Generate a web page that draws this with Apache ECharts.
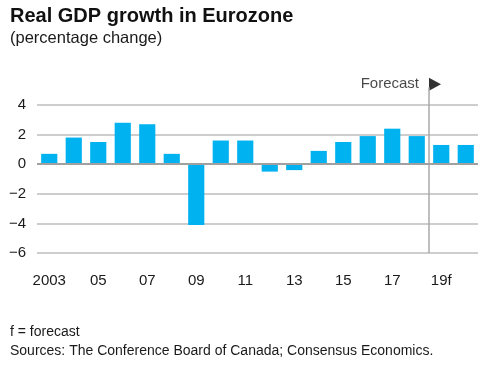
<!DOCTYPE html>
<html>
<head>
<meta charset="utf-8">
<script src="https://cdn.jsdelivr.net/npm/echarts@6/dist/echarts.min.js"></script>
<style>
html,body{margin:0;padding:0;background:#fff;}
#chart{width:489px;height:366px;}
</style>
</head>
<body>
<div id="chart"></div>
<script>
var years = ['2003','2004','2005','2006','2007','2008','2009','2010','2011','2012','2013','2014','2015','2016','2017','2018','2019','2020'];
var tickLabels = ['2003','04','05','06','07','08','09','10','11','12','13','14','15','16','17','18','19f','20f'];
var growth = [0.7, 1.8, 1.5, 2.8, 2.7, 0.7, -4.1, 1.6, 1.6, -0.5, -0.4, 0.9, 1.5, 1.9, 2.4, 1.9, 1.3, 1.3];
var forecastStart = 16;
var forecastLineSpan = [-6, 5.2];
var forecastMarkerY = 5.4;
var yTicks = [-6, -4, -2, 0, 2, 4];

var FONT = '"Liberation Sans", Arial, Helvetica, sans-serif';
var TXT = '#1a1a1a';
var chart = echarts.init(document.getElementById('chart'), null, {renderer: 'canvas'});
chart.setOption({
  animation: false,
  backgroundColor: '#ffffff',
  textStyle: {fontFamily: FONT},
  title: [
    {text: 'Real GDP growth in Eurozone', left: 10, top: 6, padding: 0,
     textStyle: {fontFamily: FONT, fontSize: 20, fontWeight: 'bold', color: '#111'}},
    {text: '(percentage change)', left: 10, top: 30, padding: 0,
     textStyle: {fontFamily: FONT, fontSize: 16.5, fontWeight: 'normal', color: TXT}},
    {text: 'f = forecast', left: 10, top: 325, padding: 0,
     textStyle: {fontFamily: FONT, fontSize: 14, fontWeight: 'normal', color: TXT}},
    {text: 'Sources: The Conference Board of Canada; Consensus Economics.', left: 10, top: 344, padding: 0,
     textStyle: {fontFamily: FONT, fontSize: 14, fontWeight: 'normal', color: TXT}}
  ],
  grid: {left: 37, right: 11, top: 105, bottom: 113, containLabel: false},
  xAxis: [
    {type: 'category', data: years, gridIndex: 0,
     axisLine: {show: false, onZero: false}, axisTick: {show: false},
     axisLabel: {interval: 1, margin: 20, fontSize: 15, color: TXT, fontFamily: FONT,
       formatter: function (v, i) { return tickLabels[i]; }},
     splitLine: {show: false}},
    {type: 'value', min: 0, max: years.length, gridIndex: 0, show: false}
  ],
  yAxis: {
    type: 'value', min: yTicks[0], max: yTicks[yTicks.length - 1], interval: 2,
    axisLine: {show: false}, axisTick: {show: false},
    axisLabel: {margin: 11, fontSize: 15, color: TXT, fontFamily: FONT,
      formatter: function (v) { return String(v).replace('-', '\u2212'); }},
    splitLine: {show: true, lineStyle: {color: '#bdbdbd', width: 1.5}}
  },
  series: [
    {type: 'bar', data: growth, xAxisIndex: 0, barCategoryGap: '34%',
     itemStyle: {color: '#00b2ef'},
     markLine: {silent: true, symbol: 'none', label: {show: false},
       lineStyle: {color: '#a0a0a0', width: 2, type: 'solid'},
       data: [{yAxis: 0}]}},
    {type: 'line', xAxisIndex: 1, clip: false, symbol: 'none',
     lineStyle: {color: '#aaaaaa', width: 1.5},
     data: [[forecastStart, forecastLineSpan[0]], [forecastStart, forecastLineSpan[1]]]},
    {type: 'scatter', xAxisIndex: 1, clip: false,
     symbol: 'triangle', symbolRotate: -90, symbolSize: [13, 12], symbolOffset: [6, 0],
     itemStyle: {color: '#000'},
     data: [[forecastStart, forecastMarkerY]]},
    {type: 'scatter', xAxisIndex: 1, clip: false, symbolSize: 0,
     label: {show: true, position: 'left', distance: 10, formatter: 'Forecast',
       fontSize: 15, color: TXT, fontFamily: FONT},
     data: [[forecastStart, forecastMarkerY]]}
  ]
});
</script>
</body>
</html>
